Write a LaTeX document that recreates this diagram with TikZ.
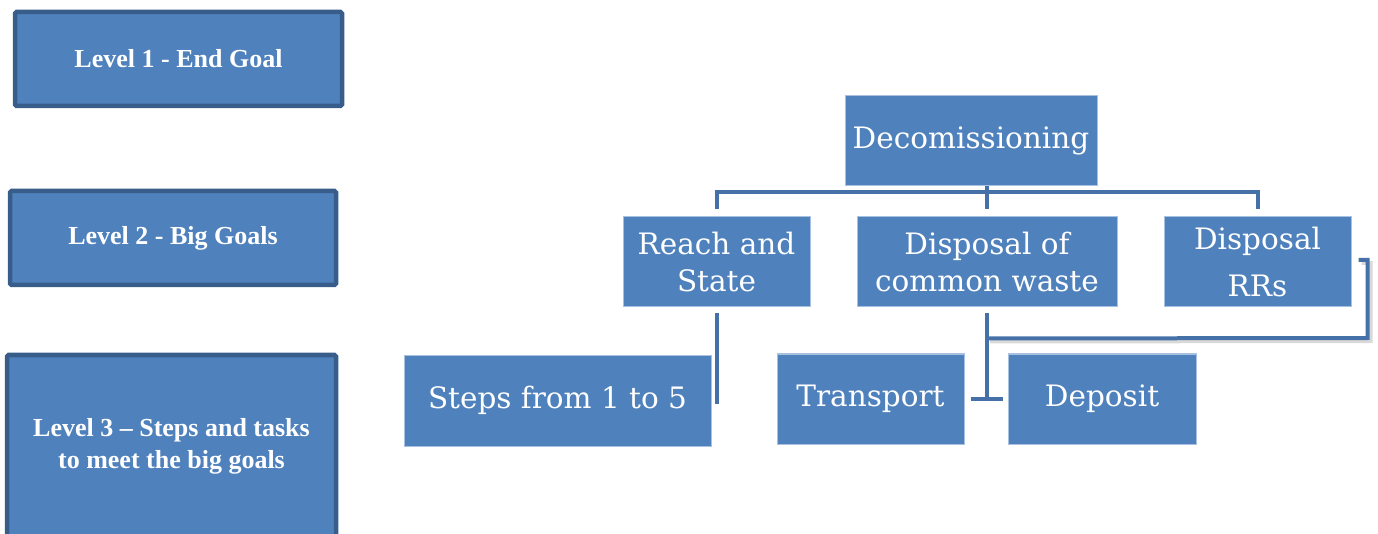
\documentclass[tikz,border=0pt]{standalone}
\usepackage{fontspec}
\setmainfont{Liberation Serif}
\newfontfamily\boxfont{DejaVu Serif}
\usetikzlibrary{calc}
\definecolor{boxblue}{HTML}{4F81BD}
\definecolor{lvlborder}{HTML}{385D8A}
\definecolor{connblue}{HTML}{4671A8}
\definecolor{edgeblue}{HTML}{A9C1E0}
\tikzset{
  levelbox/.style={draw=lvlborder, line width=4.5pt, fill=boxblue, rounded corners=1.5pt,
    text=white, font=\bfseries\fontsize{26}{32}\selectfont, align=center, inner sep=0pt},
  taskbox/.style={draw=edgeblue, line width=1pt, fill=boxblue, text=white,
    font=\boxfont\fontsize{29.5}{37}\selectfont, align=center, inner sep=0pt},
  conn/.style={draw=connblue, line width=4pt},
  connshadow/.style={draw=black!25, line width=4pt, opacity=0.6}
}
\begin{document}
\begin{tikzpicture}[x=1pt,y=-1pt]
\useasboundingbox (0,0) rectangle (1378,534);
% level boxes
\node[levelbox, minimum width=327pt, minimum height=94pt] (l1) at (178.5,59) {\raisebox{-2pt}{Level 1 - End Goal}};
\node[levelbox, minimum width=326pt, minimum height=94pt] (l2) at (173,238) {\raisebox{-2pt}{Level 2 - Big Goals}};
\node[levelbox, minimum width=329pt, minimum height=183pt] (l3) at (171.5,446.5) {Level 3 -- Steps and tasks\\to meet the big goals};
% hierarchy boxes
\node[taskbox, minimum width=252pt, minimum height=90pt] (dec) at (971,141) {\raisebox{3pt}{Decomissioning}};
\node[taskbox, minimum width=187pt, minimum height=90pt] (reach) at (716.5,262) {Reach and\\State};
\node[taskbox, minimum width=260pt, minimum height=90pt] (dcw) at (987,262) {Disposal of\\common waste};
\node[taskbox, minimum width=187pt, minimum height=90pt] (drr) at (1257.5,262) {Disposal\\[10pt]RRs};
\node[taskbox, minimum width=307pt, minimum height=91pt] (steps) at (557.5,400.5) {Steps from 1 to 5};
\node[taskbox, minimum width=187pt, minimum height=90pt] (transport) at (870.5,399) {Transport};
\node[taskbox, minimum width=188pt, minimum height=90pt] (deposit) at (1102,399) {Deposit};
% connectors
\draw[conn] ($(reach.north)+(0,-7)$) |- ($(drr.north)+(0,-24)$) -- ($(drr.north)+(0,-7)$);
\draw[conn] (dec.south -| dcw.north) -- ($(dcw.north)+(0,-7)$);
\draw[conn] ($(reach.south)+(0,6)$) -- ($(reach.south)+(0,96)$);
\draw[connshadow] ($(drr.east)+(10,1)$) -| ($(drr.east)+(19,79)$) -- ($(dcw.south)+(3,34)$);
\draw[conn] ($(drr.east)+(7,-2)$) -| ($(drr.east)+(16,76)$) -- ($(dcw.south)+(0,31)$);
\draw[conn] ($(dcw.south)+(0,6)$) -- (dcw.south |- transport.east);
\draw[conn] ($(transport.east)+(6,0)$) -- ($(deposit.west)+(-5,0)$);
\end{tikzpicture}
\end{document}
